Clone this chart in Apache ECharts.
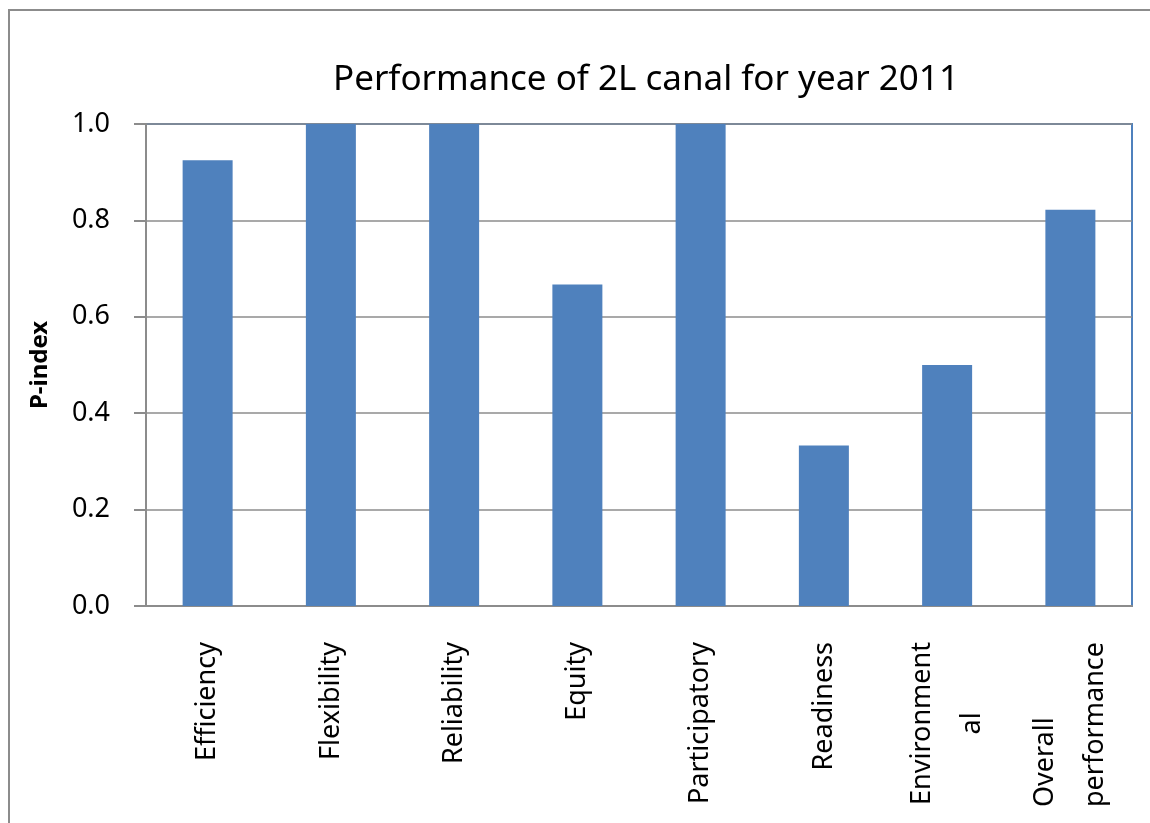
<!DOCTYPE html>
<html>
<head>
<meta charset="utf-8">
<script src="https://cdn.jsdelivr.net/npm/echarts@6/dist/echarts.min.js"></script>
<style>html,body{margin:0;padding:0;background:#fff}#c{width:1150px;height:823px}</style>
</head>
<body>
<div id="c"></div>
<script>
const categories = ['Efficiency', 'Flexibility', 'Reliability', 'Equity', 'Participatory', 'Readiness', 'Environment\nal', 'Overall\nperformance'];
const pIndex = [0.925, 1.0, 1.0, 0.667, 1.0, 0.333, 0.5, 0.822];
const yTicks = { min: 0, max: 1, interval: 0.2 };
const titleText = 'Performance of 2L canal for year 2011';
const yName = 'P-index';

const FONT = 'Noto Sans';
const XFS = 27;
const tok = (align) => ({ align: align, fontFamily: FONT, fontSize: XFS, lineHeight: 50, color: '#000' });
const chart = echarts.init(document.getElementById('c'));
chart.setOption({
  animation: false,
  backgroundColor: '#fff',
  title: {
    text: titleText, left: 328, top: 58,
    textStyle: { fontFamily: FONT, fontSize: 35, fontWeight: 'normal', color: '#000' }
  },
  graphic: [{
    type: 'rect', shape: { x: 9, y: 10, width: 1300, height: 1000 },
    style: { fill: 'none', stroke: '#8c8c8c', lineWidth: 2 }, z: -1
  }],
  grid: { left: 146, right: 18, top: 124, bottom: 217, show: true, borderColor: '#4f81bd', borderWidth: 2, backgroundColor: 'transparent' },
  xAxis: {
    type: 'category', data: categories,
    axisLine: { lineStyle: { color: '#8c8c8c', width: 2 } },
    axisTick: { length: 11, lineStyle: { color: '#8c8c8c', width: 2 } },
    axisLabel: {
      rotate: 90, margin: 36, fontFamily: FONT, fontSize: XFS, color: '#000', lineHeight: 50, interval: 0,
      formatter: function (v) {
        const lines = v.split('\n');
        if (lines.length === 1) return '{r|' + v + '}';
        if (lines[0] === 'Environment') return '{r|' + lines[0] + '}\n{c|' + lines[1] + '}';
        return '{l|' + lines[0] + '}\n{l|' + lines[1] + '}';
      },
      rich: { r: tok('right'), c: tok('center'), l: tok('left') }
    }
  },
  yAxis: {
    type: 'value', min: yTicks.min, max: yTicks.max, interval: yTicks.interval,
    name: yName, nameLocation: 'middle', nameGap: 94, nameRotate: 90,
    nameTextStyle: { fontFamily: FONT, fontSize: 24, fontWeight: 'bold', color: '#000' },
    axisLine: { show: true, lineStyle: { color: '#8c8c8c', width: 2 } },
    axisTick: { show: true, length: 12, lineStyle: { color: '#8c8c8c', width: 2 } },
    splitLine: { lineStyle: { color: '#8c8c8c', width: 1.5 } },
    axisLabel: { margin: 36, fontFamily: FONT, fontSize: 27, color: '#000', formatter: v => v.toFixed(1) }
  },
  series: [{
    type: 'bar', data: pIndex, barWidth: 50,
    itemStyle: { color: '#4f81bd' }
  }]
});
</script>
</body>
</html>
